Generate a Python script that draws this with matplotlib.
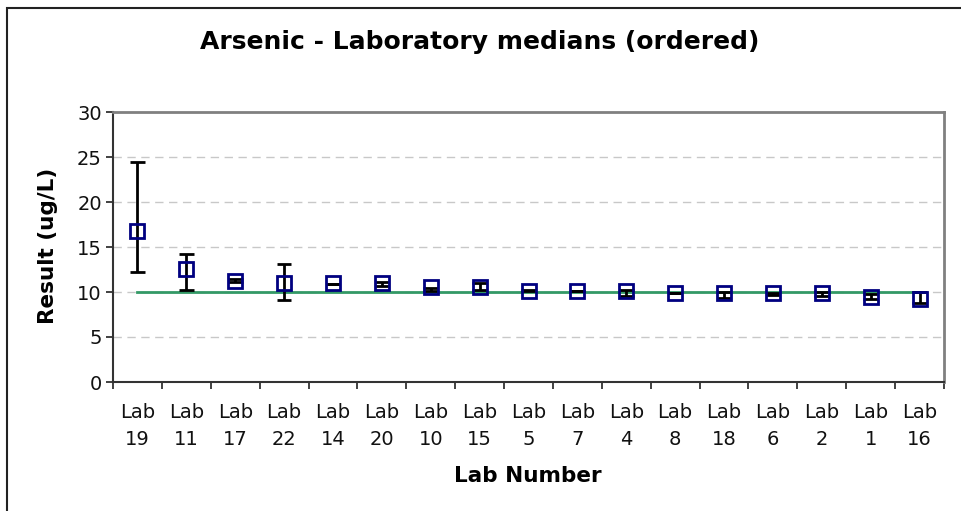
import matplotlib
matplotlib.use("Agg")
import matplotlib.pyplot as plt
from matplotlib.patches import Rectangle
import numpy as np

labs = ["19", "11", "17", "22", "14", "20", "10", "15", "5", "7", "4", "8", "18", "6", "2", "1", "16"]
medians = [16.8, 12.55, 11.25, 11.0, 11.0, 11.0, 10.55, 10.55, 10.1, 10.1, 10.1, 9.9, 9.9, 9.9, 9.9, 9.5, 9.25]
err_high = [24.5, 14.2, 11.4, 13.1, 10.9, 11.15, 10.5, 10.95, 10.2, 10.1, 10.26, 9.85, 10.05, 9.85, 10.0, 9.75, 10.0]
err_low = [12.2, 10.2, 11.1, 9.1, 10.9, 10.7, 10.15, 10.2, 10.1, 10.1, 9.55, 9.85, 9.35, 9.65, 9.55, 9.2, 8.75]
assigned = [10.0] * len(labs)
yticks = [0, 5, 10, 15, 20, 25, 30]

W, H = 961, 511
fig = plt.figure(figsize=(W / 100, H / 100), dpi=100)
ax = fig.add_axes([113 / W, 1 - 382 / H, 831 / W, 270 / H])

x = np.arange(len(labs))
med = np.array(medians)
hi = np.array(err_high)
lo = np.array(err_low)

# grid
for v in yticks[1:-1]:
    ax.axhline(v, color="#c8c8c8", lw=1, ls=(0, (6, 4)), zorder=0)

ax.plot(x, assigned, color="#339966", lw=2, zorder=2)

# error bars drawn from low to high values
ax.vlines(x, lo, hi, color="black", lw=2, zorder=3)
capw = 0.15
ax.hlines(hi, x - capw, x + capw, color="black", lw=2, zorder=3)
ax.hlines(lo, x - capw, x + capw, color="black", lw=2, zorder=3)

ax.plot(x, med, ls="none", marker="s", ms=10.5, mfc="none", mec="#000080", mew=2, zorder=4)

ax.set_xlim(-0.5, len(labs) - 0.5)
ax.set_ylim(0, 30)
ax.set_yticks(yticks)
ax.set_yticklabels([str(v) for v in yticks])

ax.set_xticks(np.arange(len(labs) + 1) - 0.5)
ax.set_xticklabels([])
ax.set_xticks(x, minor=True)
ax.set_xticklabels(["Lab\n" + l for l in labs], minor=True, linespacing=1.55)
ax.tick_params(axis="x", which="major", length=5, width=1.3, color="#333333", direction="out")
ax.tick_params(axis="x", which="minor", length=0, pad=15, labelsize=14, labelcolor="#111111")
ax.tick_params(axis="y", length=5, width=1.3, color="#333333", pad=3, labelsize=14, labelcolor="#111111")

for s in ["left", "bottom"]:
    ax.spines[s].set_color("#333333")
    ax.spines[s].set_linewidth(1.5)
for s in ["top", "right"]:
    ax.spines[s].set_color("#808080")
    ax.spines[s].set_linewidth(2)

fig.text(480 / W, 1 - 42 / H, "Arsenic - Laboratory medians (ordered)", ha="center", va="center",
         fontsize=18, fontweight="bold")
fig.text(48 / W, 1 - 246 / H, "Result (ug/L)", ha="center", va="center", rotation=90,
         fontsize=15.5, fontweight="bold")
fig.text(528 / W, 1 - 476 / H, "Lab Number", ha="center", va="center",
         fontsize=15.5, fontweight="bold")

fig.patches.append(Rectangle((7 / W, -0.05), 1.0, 1 - 8 / H + 0.05, transform=fig.transFigure,
                             fill=False, ec="#222222", lw=1.5))

fig.savefig("out.png", dpi=100)
